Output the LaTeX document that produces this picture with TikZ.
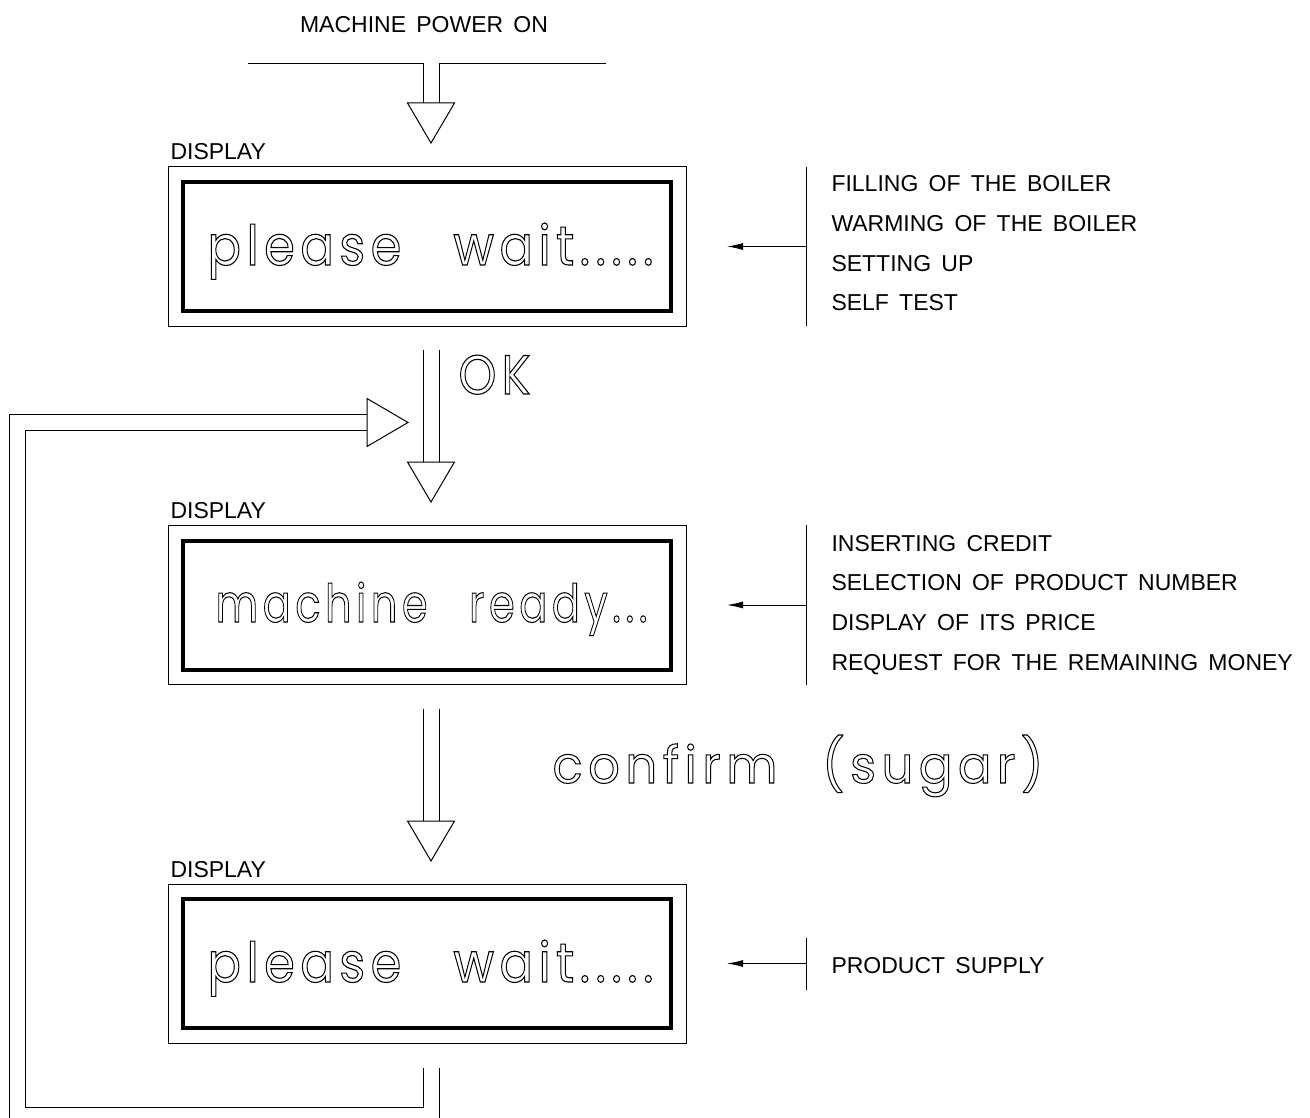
\documentclass[tikz,border=0pt]{standalone}
\usepackage{fontspec}
\usepackage{graphicx}
\usetikzlibrary{arrows.meta}
\newfontfamily\labfont{Liberation Sans}[WordSpace=1.6]
\newfontfamily\cadfont{Poppins}[LetterSpace=11]
\newcommand{\outlinetext}[1]{\special{pdf:literal direct 1 Tr 1 w}#1\special{pdf:literal direct 0 Tr}}
\newcommand{\cadtext}[3]{\resizebox{#1}{#2}{\cadfont\fontsize{50}{60}\selectfont\outlinetext{#3}}}
\tikzset{
  outerbox/.style={draw, line width=1pt, minimum width=518pt, minimum height=159pt, inner sep=0pt, outer sep=0pt},
  innerbox/.style={draw, line width=4pt, minimum width=488pt, minimum height=129pt, inner sep=0pt, outer sep=0pt},
  lab/.style={anchor=base west, inner sep=0pt, font=\labfont\fontsize{23}{27}\selectfont},
  cadnode/.style={anchor=base west, inner sep=0pt},
  sidearrow/.style={-{Latex[length=16pt,width=7pt]}},
  hollowhead/.style={draw, line width=1pt, fill=white}
}
\begin{document}
\begin{tikzpicture}[x=1pt,y=-1pt,line width=1pt]
\useasboundingbox[fill=white] (0,0) rectangle (1310,1118);

% ---- top entry
\node[lab, anchor=base] (power) at (424,33) {MACHINE POWER ON};
\coordinate (pl) at (248,64);
\coordinate (pr) at (606,64);
\coordinate (a0) at (431,103);
\draw (pl) -- ([xshift=-8pt]a0 |- pl) -- ([xshift=-8pt]a0);
\draw (pr) -- ([xshift=8pt]a0 |- pr) -- ([xshift=8pt]a0);
\draw[hollowhead] ([xshift=-23.5pt]a0) -- ([yshift=-40pt]a0) -- ([xshift=23.5pt]a0) -- cycle;

% ---- box 1
\node[lab] (d1) at (170,160) {DISPLAY};
\node[outerbox] (box1) at (427,246.5) {};
\node[innerbox] (in1) at (box1.center) {};
\node[cadnode] (t1) at (207,265) {\cadtext{446pt}{42pt}{please\hspace{1.05em}wait.....}};
\coordinate (b1t) at (806,167);
\coordinate (b1b) at (806,326);
\draw (b1t) -- (b1b);
\draw[sidearrow] (b1t |- box1.east) -- ([xshift=41pt]box1.east);
\node[lab] (f1) at (831,192) {FILLING OF THE BOILER};
\node[lab] (f2) at (831,232) {WARMING OF THE BOILER};
\node[lab] (f3) at (831,272) {SETTING UP};
\node[lab] (f4) at (831,311) {SELF TEST};

% ---- arrow OK
\coordinate (s2) at (431,350);
\coordinate (a2) at (431,462);
\draw ([xshift=-8pt]s2) -- ([xshift=-8pt]a2);
\draw ([xshift=8pt]s2) -- ([xshift=8pt]a2);
\draw[hollowhead] ([xshift=-23.5pt]a2) -- ([yshift=-40pt]a2) -- ([xshift=23.5pt]a2) -- cycle;
\node[cadnode] (ok) at (458,394) {\cadtext{72pt}{39pt}{OK}};

% ---- box 2
\node[lab] (d2) at (170,518) {DISPLAY};
\node[outerbox] (box2) at (427,605) {};
\node[innerbox] (in2) at (box2.center) {};
\node[cadnode] (t2) at (215,622) {\cadtext{432pt}{40pt}{machine\hspace{1.0em}ready...}};
\coordinate (b2t) at (806,525);
\coordinate (b2b) at (806,685);
\draw (b2t) -- (b2b);
\draw[sidearrow] (b2t |- box2.east) -- ([xshift=41pt]box2.east);
\node[lab] (g1) at (831,551) {INSERTING CREDIT};
\node[lab] (g2) at (831,590) {SELECTION OF PRODUCT NUMBER};
\node[lab] (g3) at (831,630) {DISPLAY OF ITS PRICE};
\node[lab] (g4) at (831,670) {REQUEST FOR THE REMAINING MONEY};

% ---- arrow confirm
\coordinate (s3) at (431,709);
\coordinate (a3) at (431,821);
\draw ([xshift=-8pt]s3) -- ([xshift=-8pt]a3);
\draw ([xshift=8pt]s3) -- ([xshift=8pt]a3);
\draw[hollowhead] ([xshift=-23.5pt]a3) -- ([yshift=-40pt]a3) -- ([xshift=23.5pt]a3) -- cycle;
\node[cadnode] (conf) at (552,783) {\cadtext{491pt}{48pt}{confirm\hspace{0.9em}(sugar)}};

% ---- box 3
\node[lab] (d3) at (170,877) {DISPLAY};
\node[outerbox] (box3) at (427,963.5) {};
\node[innerbox] (in3) at (box3.center) {};
\node[cadnode] (t3) at (207,982) {\cadtext{446pt}{42pt}{please\hspace{1.05em}wait.....}};
\coordinate (b3t) at (806,938);
\coordinate (b3b) at (806,990);
\draw (b3t) -- (b3b);
\draw[sidearrow] (b3t |- box3.east) -- ([xshift=41pt]box3.east);
\node[lab] (h1) at (831,973) {PRODUCT SUPPLY};

% ---- return loop
\coordinate (r0) at (431,1068);
\coordinate (rend) at (431,1118);
\coordinate (ra) at (367,422.5);
\draw ([xshift=8pt]r0) -- ([xshift=8pt]rend);
\draw ([xshift=-8pt]r0) -- (423,1107) -- (25,1107) -- (25,430.5) -- ([yshift=-8pt]ra);
\draw (9,1118) -- (9,414.5) -- ([yshift=8pt]ra);
\draw[hollowhead] ([yshift=24pt]ra) -- ([xshift=41pt]ra) -- ([yshift=-24pt]ra) -- cycle;
\end{tikzpicture}
\end{document}
